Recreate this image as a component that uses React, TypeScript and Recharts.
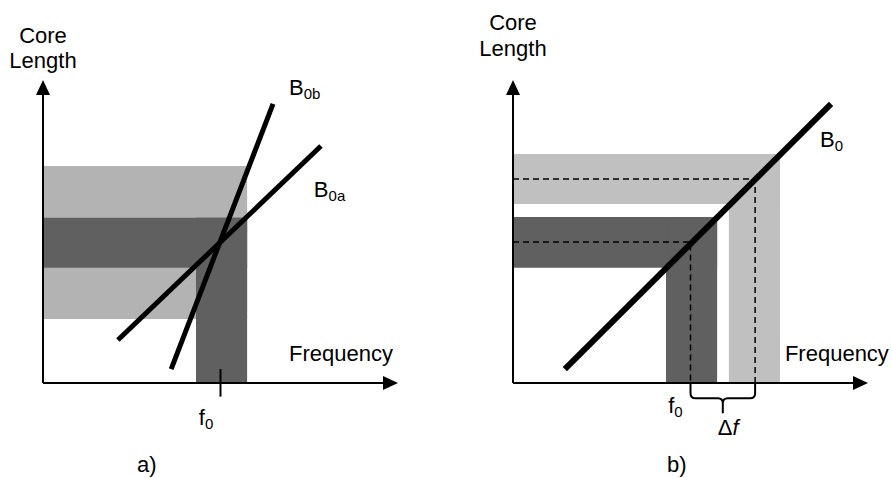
import React from "react";
import {
  ComposedChart,
  Line,
  XAxis,
  YAxis,
  ReferenceArea,
  ReferenceLine,
  ReferenceDot,
} from "recharts";

// both panels use the same abstract units: frequency 0..10, core length 0..10

// panel a) two flux-density lines crossing at f0
const lightBandsA = [{ x1: 0, x2: 5.75, y1: 2.11, y2: 7.16 }];
const darkBandsA = [
  { x1: 0, x2: 5.75, y1: 3.8, y2: 5.45 },
  { x1: 4.31, x2: 5.75, y1: 0, y2: 5.45 },
];
const lineB0a = [
  { x: 2.11, y: 1.42 },
  { x: 7.83, y: 7.82 },
];
const lineB0b = [
  { x: 3.61, y: 0.46 },
  { x: 6.48, y: 9.21 },
];
const f0A = 5.0;

// panel b) one line, the band shifted by delta f
const lightBandsB = [
  { x1: 0, x2: 7.52, y1: 5.91, y2: 7.56 },
  { x1: 6.08, x2: 7.52, y1: 0, y2: 7.56 },
];
const darkBandsB = [
  { x1: 0, x2: 5.75, y1: 3.8, y2: 5.48 },
  { x1: 4.31, x2: 5.75, y1: 0, y2: 5.48 },
];
const lineB0 = [
  { x: 1.46, y: 0.46 },
  { x: 8.96, y: 9.21 },
];
const dashF0 = [
  { x: 0, y: 4.65 },
  { x: 5.0, y: 4.65 },
  { x: 5.0, y: 0 },
];
const dashF1 = [
  { x: 0, y: 6.73 },
  { x: 6.82, y: 6.73 },
  { x: 6.82, y: 0 },
];
const braceB = { x1: 5.0, x2: 6.82 };

const labelsA = [
  { x: 0, y: 11.22, text: "Core", anchor: "middle" },
  { x: 0, y: 10.4, text: "Length", anchor: "middle" },
  { x: 6.93, y: 9.5, text: "B", sub: "0b" },
  { x: 7.63, y: 6.14, text: "B", sub: "0a" },
  { x: 6.93, y: 0.73, text: "Frequency" },
  { x: 4.39, y: -1.39, text: "f", sub: "0" },
  { x: 2.65, y: -2.94, text: "a)" },
];
const labelsB = [
  { x: 0, y: 11.65, text: "Core", anchor: "middle" },
  { x: 0, y: 10.79, text: "Length", anchor: "middle" },
  { x: 8.65, y: 7.79, text: "B", sub: "0" },
  { x: 7.66, y: 0.73, text: "Frequency" },
  { x: 4.37, y: -0.99, text: "f", sub: "0" },
  { x: 5.77, y: -1.72, text: "\u0394", italic: "f" },
  { x: 4.34, y: -2.94, text: "b)" },
];

const FONT = "'Liberation Sans', Arial, sans-serif";
const LIGHT_A = "#b3b3b3";
const LIGHT_B = "#c0c0c0";
const DARK = "#606060";

const W = 446;
const H = 478;

function Label(props: any) {
  const { cx, cy, item } = props;
  return (
    <text
      x={cx}
      y={cy}
      fontFamily={FONT}
      fontSize={22}
      fill="#000"
      textAnchor={item.anchor || "start"}
    >
      {item.text}
      {item.sub && (
        <tspan fontSize={15} dy={4}>
          {item.sub}
        </tspan>
      )}
      {item.italic && <tspan fontStyle="italic">{item.italic}</tspan>}
    </text>
  );
}

function ArrowRight(props: any) {
  const { cx, cy } = props;
  return <path d={`M${cx},${cy} L${cx - 15},${cy - 7} L${cx - 15},${cy + 7} Z`} fill="#000" />;
}

function ArrowUp(props: any) {
  const { cx, cy } = props;
  return <path d={`M${cx},${cy} L${cx - 7},${cy + 15} L${cx + 7},${cy + 15} Z`} fill="#000" />;
}

function Brace(props: any) {
  const { x, y, width: w, height: h } = props;
  const yb = y + h * 0.5;
  const mid = x + w / 2;
  const r = 5;
  const d =
    `M${x},${y} L${x},${yb - r} Q${x},${yb} ${x + r},${yb} L${mid - r},${yb} ` +
    `Q${mid},${yb} ${mid},${yb + r} L${mid},${y + h} ` +
    `M${mid},${yb + r} Q${mid},${yb} ${mid + r},${yb} L${x + w - r},${yb} ` +
    `Q${x + w},${yb} ${x + w},${yb - r} L${x + w},${y}`;
  return <path d={d} fill="none" stroke="#000" strokeWidth={2} />;
}

function axesAndLabels(labels: any[], key: string) {
  return [
    <ReferenceLine
      key={key + "xa"}
      segment={[{ x: 0, y: 0 }, { x: 9.7, y: 0 }]}
      stroke="#000"
      strokeWidth={2}
      ifOverflow="visible"
    />,
    <ReferenceLine
      key={key + "ya"}
      segment={[{ x: 0, y: 0 }, { x: 0, y: 9.7 }]}
      stroke="#000"
      strokeWidth={2}
      ifOverflow="visible"
    />,
    <ReferenceDot key={key + "xh"} x={10} y={0} r={0} ifOverflow="visible" shape={ArrowRight} />,
    <ReferenceDot key={key + "yh"} x={0} y={10} r={0} ifOverflow="visible" shape={ArrowUp} />,
    ...labels.map((item, i) => (
      <ReferenceDot
        key={key + "l" + i}
        x={item.x}
        y={item.y}
        r={0}
        ifOverflow="visible"
        shape={(p: any) => <Label {...p} item={item} />}
      />
    )),
  ];
}

function PanelA() {
  return (
    <ComposedChart width={W} height={H} margin={{ top: 80, right: 48, bottom: 95, left: 43 }}>
      <XAxis type="number" dataKey="x" domain={[0, 10]} hide />
      <YAxis type="number" dataKey="y" domain={[0, 10]} hide />
      {lightBandsA.map((b, i) => (
        <ReferenceArea key={"la" + i} {...b} fill={LIGHT_A} fillOpacity={1} stroke="none" ifOverflow="visible" />
      ))}
      {darkBandsA.map((b, i) => (
        <ReferenceArea key={"da" + i} {...b} fill={DARK} fillOpacity={1} stroke="none" ifOverflow="visible" />
      ))}
      <ReferenceLine
        segment={[{ x: f0A, y: -0.45 }, { x: f0A, y: 0.46 }]}
        stroke="#000"
        strokeWidth={2}
        ifOverflow="visible"
      />
      {axesAndLabels(labelsA, "a")}
      <Line data={lineB0a} dataKey="y" stroke="#000" strokeWidth={5} dot={false} isAnimationActive={false} />
      <Line data={lineB0b} dataKey="y" stroke="#000" strokeWidth={5} dot={false} isAnimationActive={false} />
    </ComposedChart>
  );
}

function PanelB() {
  return (
    <ComposedChart width={W} height={H} margin={{ top: 80, right: 24, bottom: 95, left: 67 }}>
      <XAxis type="number" dataKey="x" domain={[0, 10]} hide />
      <YAxis type="number" dataKey="y" domain={[0, 10]} hide />
      {lightBandsB.map((b, i) => (
        <ReferenceArea key={"lb" + i} {...b} fill={LIGHT_B} fillOpacity={1} stroke="none" ifOverflow="visible" />
      ))}
      {darkBandsB.map((b, i) => (
        <ReferenceArea key={"db" + i} {...b} fill={DARK} fillOpacity={1} stroke="none" ifOverflow="visible" />
      ))}
      <ReferenceArea
        x1={braceB.x1}
        x2={braceB.x2}
        y1={-1.0}
        y2={0}
        ifOverflow="visible"
        shape={Brace}
      />
      {axesAndLabels(labelsB, "b")}
      <Line data={dashF0} dataKey="y" stroke="#000" strokeWidth={1.5} strokeDasharray="6 4" dot={false} isAnimationActive={false} />
      <Line data={dashF1} dataKey="y" stroke="#000" strokeWidth={1.5} strokeDasharray="6 4" dot={false} isAnimationActive={false} />
      <Line data={lineB0} dataKey="y" stroke="#000" strokeWidth={6} dot={false} isAnimationActive={false} />
    </ComposedChart>
  );
}

export default function App() {
  return (
    <div style={{ position: "absolute", left: 0, top: 0, width: 892, height: 478, display: "flex", background: "#fff" }}>
      <PanelA />
      <PanelB />
    </div>
  );
}
